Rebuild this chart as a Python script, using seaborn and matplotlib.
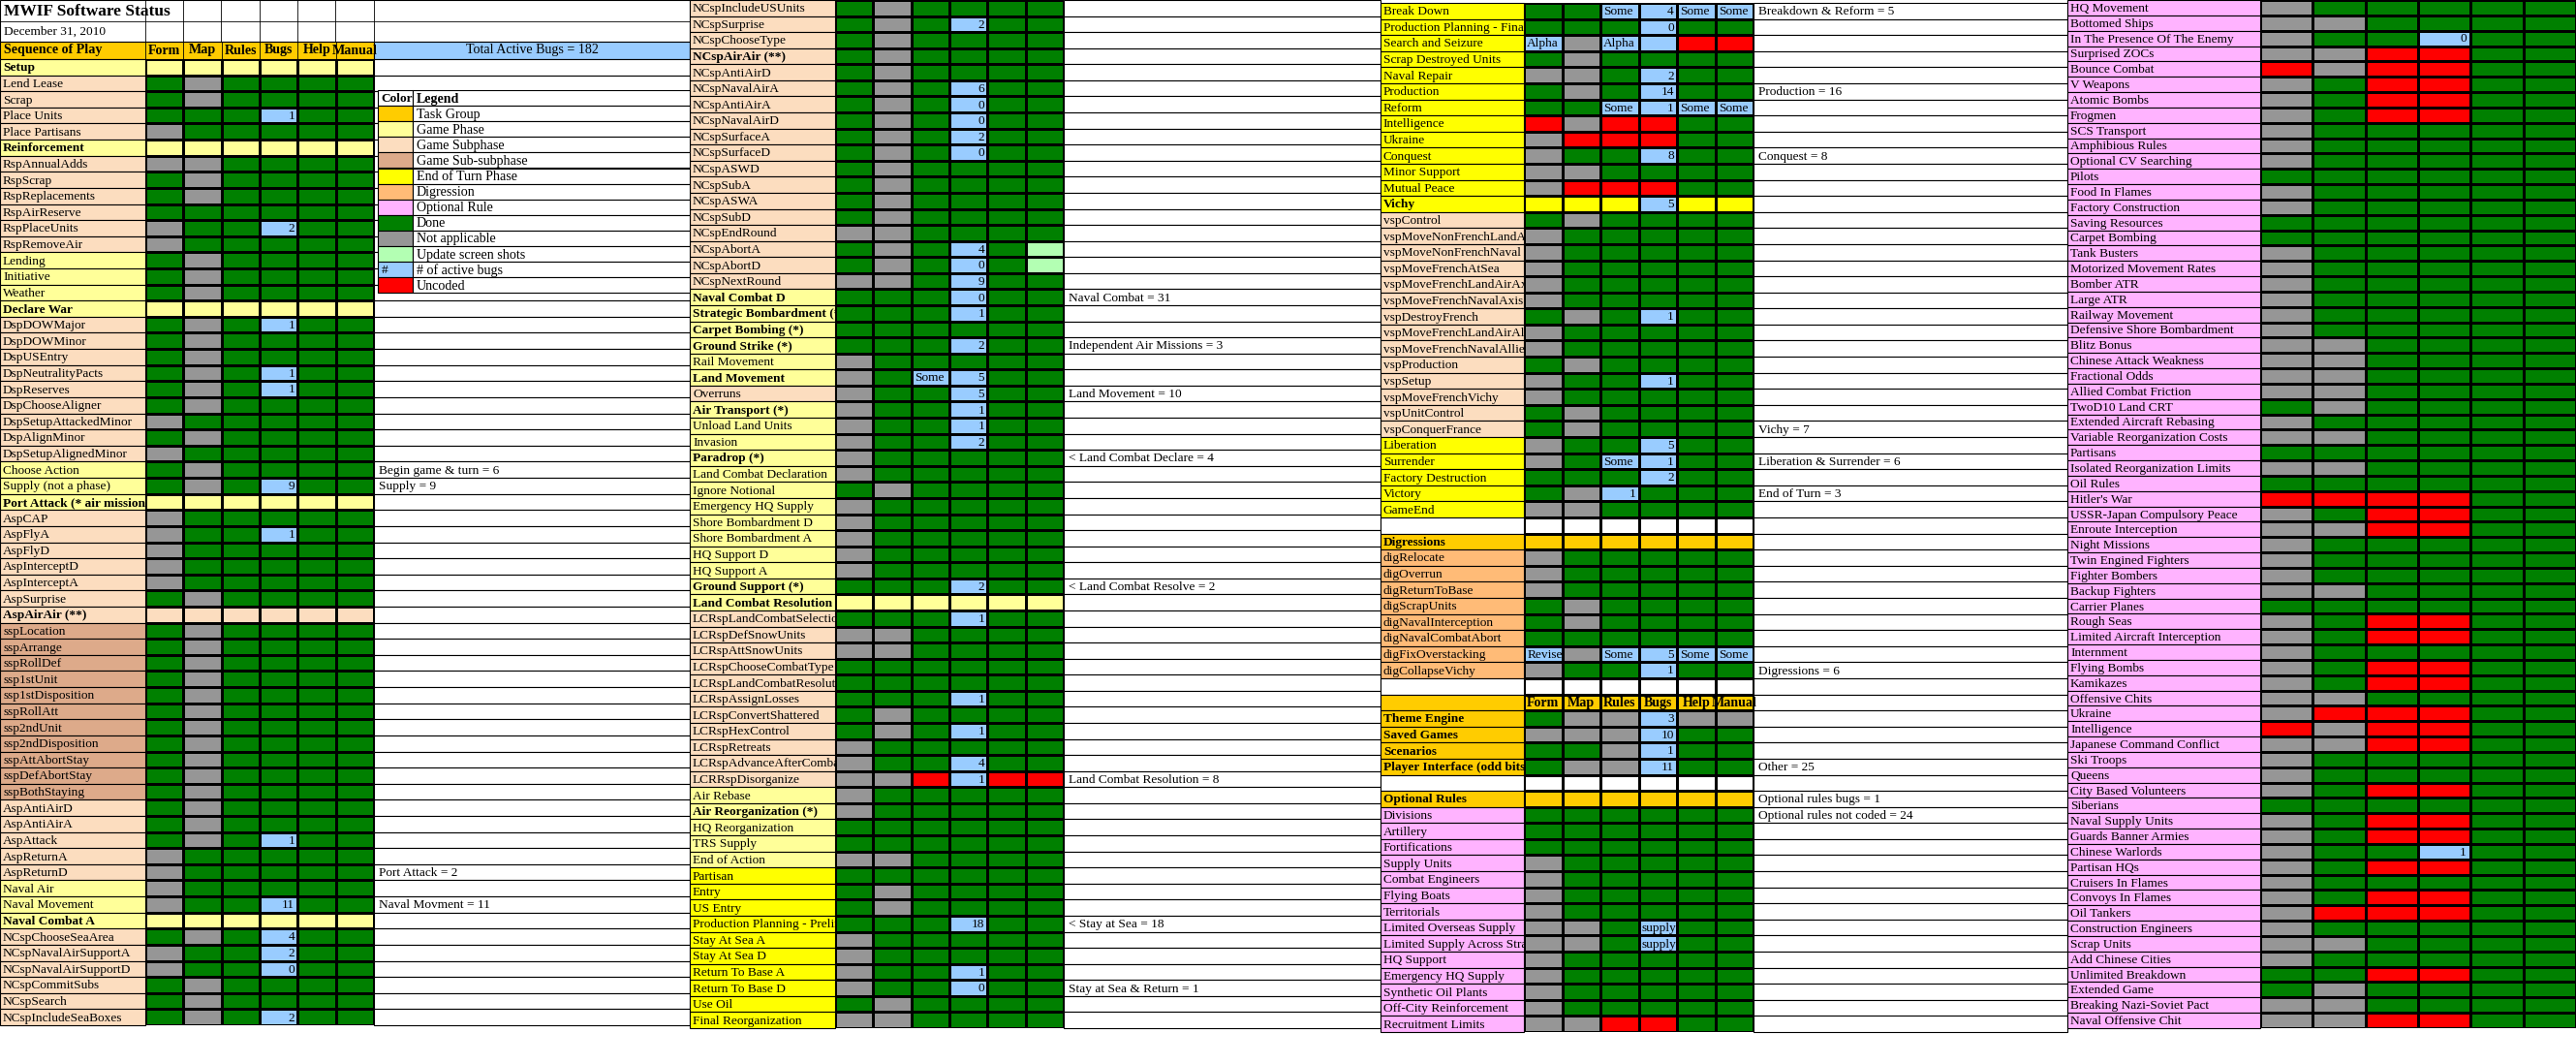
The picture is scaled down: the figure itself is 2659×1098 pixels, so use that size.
import matplotlib
matplotlib.use("Agg")
import matplotlib.pyplot as plt
import seaborn as sns
import numpy as np
from matplotlib.colors import ListedColormap
from matplotlib.patches import Rectangle

W, H = 2659, 1098
FONT = "Liberation Serif"
FS = 9.6

# ---------------- data ----------------
col_headers = ["Form", "Map", "Rules", "Bugs", "Help", "Manual"]
title = "MWIF Software Status"
date_text = "December 31, 2010"
seq_header = "Sequence of Play"
total_bugs_text = "Total Active Bugs = 182"

legend_labels = ["Task Group", "Game Phase", "Game Subphase", "Game Sub-subphase",
                 "End of Turn Phase", "Digression", "Optional Rule", "Done",
                 "Not applicable", "Update screen shots", "# of active bugs", "Uncoded"]
legend_codes = ["t", "g", "s", "u", "e", "d", "o", "G", "X", "L", "B", "R"]

p1_names = ["Setup", "Lend Lease", "Scrap", "Place Units", "Place Partisans", "Reinforcement",
            "RspAnnualAdds", "RspScrap", "RspReplacements", "RspAirReserve", "RspPlaceUnits",
            "RspRemoveAir", "Lending", "Initiative", "Weather", "Declare War", "DspDOWMajor",
            "DspDOWMinor", "DspUSEntry", "DspNeutralityPacts", "DspReserves", "DspChooseAligner",
            "DspSetupAttackedMinor", "DspAlignMinor", "DspSetupAlignedMinor", "Choose Action",
            "Supply (not a phase)", "Port Attack (* air mission)", "AspCAP", "AspFlyA", "AspFlyD",
            "AspInterceptD", "AspInterceptA", "AspSurprise", "AspAirAir (**)", "sspLocation",
            "sspArrange", "sspRollDef", "ssp1stUnit", "ssp1stDisposition", "sspRollAtt",
            "ssp2ndUnit", "ssp2ndDisposition", "sspAttAbortStay", "sspDefAbortStay",
            "sspBothStaying", "AspAntiAirD", "AspAntiAirA", "AspAttack", "AspReturnA",
            "AspReturnD", "Naval Air", "Naval Movement", "Naval Combat A", "NCspChooseSeaArea",
            "NCspNavalAirSupportA", "NCspNavalAirSupportD", "NCspCommitSubs", "NCspSearch",
            "NCspIncludeSeaBoxes"]
p1_kinds = ["G", "s", "s", "s", "s", "G", "s", "s", "s", "s", "s", "s", "g", "g", "g", "G",
            "s", "s", "s", "s", "s", "s", "s", "s", "s", "g", "g", "G", "s", "s", "s", "s", "s",
            "s", "S", "u", "u", "u", "u", "u", "u", "u", "u", "u", "u", "u", "s", "s", "s", "s",
            "s", "g", "g", "G", "s", "s", "s", "s", "s", "s"]
p1_status = ["YYYYYY", "GXGGGG", "GXGGGG", "GGGBGG", "XGGGGG", "YYYYYY", "XXGGGG", "GXGGGG",
             "GXGGGG", "GGGGGG", "XGGBGG", "XGGGGG", "GXGGGG", "GXGGGG", "GXGGGG", "YYYYYY",
             "GXGBGG", "GXGGGG", "GXGGGG", "GXGBGG", "GXGBGG", "GXGGGG", "XGGGGG", "GXGGGG",
             "XGGGGG", "GXGGGG", "GXGBGG", "YYYYYY", "XGGGGG", "XGGBGG", "XGGGGG", "XGGGGG",
             "XGGGGG", "GXGGGG", "SSSSSS", "GXGGGG", "GXGGGG", "GXGGGG", "GXGGGG", "GXGGGG",
             "GXGGGG", "GXGGGG", "GXGGGG", "GXGGGG", "GXGGGG", "GXGGGG", "GXGGGG", "GXGGGG",
             "GXGBGG", "XGGGGG", "XGGGGG", "XGGGGG", "XGGBGG", "YYYYYY", "GXGBGG", "XGGBGG",
             "XGGBGG", "GXGGGG", "GXGGGG", "GXGBGG"]
p1_bugs = {3: "|||1||", 10: "|||2||", 16: "|||1||", 19: "|||1||", 20: "|||1||", 26: "|||9||",
           29: "|||1||", 48: "|||1||", 52: "|||11||", 54: "|||4||", 55: "|||2||", 56: "|||0||",
           59: "|||2||"}
p1_notes = {25: "Begin game & turn = 6", 26: "Supply = 9", 50: "Port Attack = 2",
            52: "Naval Movment = 11"}

p2_names = ["NCspIncludeUSUnits", "NCspSurprise", "NCspChooseType", "NCspAirAir (**)",
            "NCspAntiAirD", "NCspNavalAirA", "NCspAntiAirA", "NCspNavalAirD", "NCspSurfaceA",
            "NCspSurfaceD", "NCspASWD", "NCspSubA", "NCspASWA", "NCspSubD", "NCspEndRound",
            "NCspAbortA", "NCspAbortD", "NCspNextRound", "Naval Combat D",
            "Strategic Bombardment (*)", "Carpet Bombing (*)", "Ground Strike (*)",
            "Rail Movement", "Land Movement", "Overruns", "Air Transport (*)",
            "Unload Land Units", "Invasion", "Paradrop (*)", "Land Combat Declaration",
            "Ignore Notional", "Emergency HQ Supply", "Shore Bombardment D",
            "Shore Bombardment A", "HQ Support D", "HQ Support A", "Ground Support (*)",
            "Land Combat Resolution", "LCRspLandCombatSelection", "LCRspDefSnowUnits",
            "LCRspAttSnowUnits", "LCRspChooseCombatType", "LCRspLandCombatResolution",
            "LCRspAssignLosses", "LCRspConvertShattered", "LCRspHexControl", "LCRspRetreats",
            "LCRspAdvanceAfterCombat", "LCRRspDisorganize", "Air Rebase",
            "Air Reorganization (*)", "HQ Reorganization", "TRS Supply", "End of Action",
            "Partisan", "Entry", "US Entry", "Production Planning - Prelim", "Stay At Sea A",
            "Stay At Sea D", "Return To Base A", "Return To Base D", "Use Oil",
            "Final Reorganization"]
p2_kinds = ["s", "s", "s", "S", "s", "s", "s", "s", "s", "s", "s", "s", "s", "s", "s", "s",
            "s", "s", "G", "G", "G", "G", "g", "G", "s", "G", "g", "g", "G", "g", "g", "g",
            "g", "g", "g", "g", "G", "G", "s", "s", "s", "s", "s", "s", "s", "s", "s", "s",
            "s", "g", "G", "g", "g", "g", "e", "e", "e", "e", "e", "e", "e", "e", "e", "e"]
p2_status = ["GXGGGG", "GXGBGG", "GXGGGG", "GXGGGG", "GXGGGG", "GXGBGG", "GXGBGG", "GXGBGG",
             "GXGBGG", "GXGBGG", "GXGGGG", "GXGGGG", "GXGGGG", "GXGGGG", "XXGGGG", "GXGBGL",
             "GXGBGL", "XXGBGG", "GGGBGG", "GGGBGG", "GGGGGG", "GGGBGG", "XGGGGG", "XGBBGG",
             "XGGBGG", "XGGBGG", "XGGBGG", "XGGBGG", "XGGGGG", "XGGGGG", "GXGGGG", "XGGGGG",
             "XGGGGG", "XGGGGG", "XGGGGG", "XGGGGG", "GGGBGG", "YYYYYY", "GGGBGG", "XXGGGG",
             "XXGGGG", "GGGGGG", "GGGGGG", "GGGBGG", "GXGGGG", "GXGBGG", "XGGGGG", "XGGBGG",
             "XXRBRR", "XGGGGG", "XGGGGG", "GGGGGG", "GGGGGG", "XXGGGG", "GGGGGG", "GXGGGG",
             "GXGGGG", "GGGBGG", "XGGGGG", "XGGGGG", "XGGBGG", "XGGBGG", "GXGGGG", "XXGGGG"]
p2_bugs = {1: "|||2||", 5: "|||6||", 6: "|||0||", 7: "|||0||", 8: "|||2||", 9: "|||0||",
           15: "|||4||", 16: "|||0||", 17: "|||9||", 18: "|||0||", 19: "|||1||", 21: "|||2||",
           23: "||Some|5||", 24: "|||5||", 25: "|||1||", 26: "|||1||", 27: "|||2||",
           36: "|||2||", 38: "|||1||", 43: "|||1||", 45: "|||1||", 47: "|||4||", 48: "|||1||",
           57: "|||18||", 60: "|||1||", 61: "|||0||"}
p2_notes = {18: "Naval Combat = 31", 21: "Independent Air Missions = 3", 24: "Land Movement = 10",
            28: "< Land Combat Declare = 4", 36: "< Land Combat Resolve = 2",
            48: "Land Combat Resolution = 8", 57: "< Stay at Sea = 18",
            61: "Stay at Sea & Return = 1"}

p3_names = ["Break Down", "Production Planning - Final", "Search and Seizure",
            "Scrap Destroyed Units", "Naval Repair", "Production", "Reform", "Intelligence",
            "Ukraine", "Conquest", "Minor Support", "Mutual Peace", "Vichy", "vspControl",
            "vspMoveNonFrenchLandAir", "vspMoveNonFrenchNaval", "vspMoveFrenchAtSea",
            "vspMoveFrenchLandAirAxis", "vspMoveFrenchNavalAxis", "vspDestroyFrench",
            "vspMoveFrenchLandAirAllied", "vspMoveFrenchNavalAllied", "vspProduction",
            "vspSetup", "vspMoveFrenchVichy", "vspUnitControl", "vspConquerFrance",
            "Liberation", "Surrender", "Factory Destruction", "Victory", "GameEnd", "",
            "Digressions", "digRelocate", "digOverrun", "digReturnToBase", "digScrapUnits",
            "digNavalInterception", "digNavalCombatAbort", "digFixOverstacking",
            "digCollapseVichy", "", "", "Theme Engine", "Saved Games", "Scenarios",
            "Player Interface (odd bits)", "", "Optional Rules", "Divisions", "Artillery",
            "Fortifications", "Supply Units", "Combat Engineers", "Flying Boats",
            "Territorials", "Limited Overseas Supply", "Limited Supply Across Straits",
            "HQ Support", "Emergency HQ Supply", "Synthetic Oil Plants",
            "Off-City Reinforcement", "Recruitment Limits"]
p3_kinds = ["e"] * 12 + ["E"] + ["s"] * 14 + ["e"] * 5 + ["w", "T"] + ["d"] * 8 + \
           ["w", "T", "T", "T", "T", "T", "w", "T"] + ["o"] * 15
p3_status = ["GGBBBB", "GGGBGG", "BXBBRR", "GXGGGG", "XXGBGG", "GXGBGG", "GGBBBB", "RXRRGG",
             "XRRRGG", "XGGBGG", "XXGGGG", "XRRRGG", "EEEBEE", "GXGGGG", "XGGGGG", "XGGGGG",
             "XGGGGG", "XGGGGG", "XGGGGG", "GXGBGG", "XGGGGG", "XGGGGG", "GXGGGG", "XGGBGG",
             "XGGGGG", "GXGGGG", "GXGGGG", "XGGBGG", "XGBBGG", "GGGBGG", "GXBGGG", "XXGGGG",
             "WWWWWW", "TTTTTT", "XGGGGG", "XGGGGG", "XGGGGG", "GXGGGG", "GXGGGG", "GGGGGG",
             "BXBBBB", "XGGBGG", "WWWWWW", "TTTTTT", "GXXBXX", "XXXBGG", "GGXBGG", "GXXBGG",
             "WWWWWW", "TTTTTT", "GGGGGG", "GGGGGG", "GGGGGG", "XGGGGG", "XGGGGG", "XGGGGG",
             "XGGGGG", "XXGBGG", "XXGBGG", "XGGGGG", "XGGGGG", "XGGGGG", "XGGGGG", "XXRRGG"]
p3_bugs = {0: "||Some|4|Some|Some", 1: "|||0||", 2: "Alpha||Alpha|||", 4: "|||2||",
           5: "|||14||", 6: "||Some|1|Some|Some", 9: "|||8||", 12: "|||5||", 19: "|||1||",
           23: "|||1||", 27: "|||5||", 28: "||Some|1||", 29: "|||2||", 30: "||1|||",
           40: "Revise||Some|5|Some|Some", 41: "|||1||", 43: "HEADER", 44: "|||3||",
           45: "|||10||", 46: "|||1||", 47: "|||11||", 57: "|||supply||", 58: "|||supply||"}
p3_notes = {0: "Breakdown & Reform = 5", 5: "Production = 16", 9: "Conquest = 8",
            26: "Vichy = 7", 28: "Liberation & Surrender = 6", 30: "End of Turn = 3",
            41: "Digressions = 6", 47: "Other = 25", 49: "Optional rules bugs = 1",
            50: "Optional rules not coded = 24"}

p4_names = ["HQ Movement", "Bottomed Ships", "In The Presence Of The Enemy", "Surprised ZOCs",
            "Bounce Combat", "V Weapons", "Atomic Bombs", "Frogmen", "SCS Transport",
            "Amphibious Rules", "Optional CV Searching", "Pilots", "Food In Flames",
            "Factory Construction", "Saving Resources", "Carpet Bombing", "Tank Busters",
            "Motorized Movement Rates", "Bomber ATR", "Large ATR", "Railway Movement",
            "Defensive Shore Bombardment", "Blitz Bonus", "Chinese Attack Weakness",
            "Fractional Odds", "Allied Combat Friction", "TwoD10 Land CRT",
            "Extended Aircraft Rebasing", "Variable Reorganization Costs", "Partisans",
            "Isolated Reorganization Limits", "Oil Rules", "Hitler's War",
            "USSR-Japan Compulsory Peace", "Enroute Interception", "Night Missions",
            "Twin Engined Fighters", "Fighter Bombers", "Backup Fighters", "Carrier Planes",
            "Rough Seas", "Limited Aircraft Interception", "Internment", "Flying Bombs",
            "Kamikazes", "Offensive Chits", "Ukraine", "Intelligence",
            "Japanese Command Conflict", "Ski Troops", "Queens", "City Based Volunteers",
            "Siberians", "Naval Supply Units", "Guards Banner Armies", "Chinese Warlords",
            "Partisan HQs", "Cruisers In Flames", "Convoys In Flames", "Oil Tankers",
            "Construction Engineers", "Scrap Units", "Add Chinese Cities",
            "Unlimited Breakdown", "Extended Game", "Breaking Nazi-Soviet Pact",
            "Naval Offensive Chit"]
p4_kinds = ["o"] * len(p4_names)
p4_status = ["XGGGGG", "XXGGGG", "XGGBGG", "XXRRGG", "RXRRGG", "XGRRGG", "XGRRGG", "XGRRGG",
             "XGGGGG", "XGGGGG", "XGGGGG", "GGGGGG", "XGGGGG", "XGGGGG", "GGGGGG", "GGGGGG",
             "XGGGGG", "XGGGGG", "XGGGGG", "XGGGGG", "XGGGGG", "XGGGGG", "XXGGGG", "XXGGGG",
             "XXGGGG", "XXGGGG", "GXGGGG", "XGGGGG", "XXGGGG", "GGGGGG", "XXGGGG", "GGGGGG",
             "RRRRGG", "XGRRGG", "XXRRGG", "XGGGGG", "XGGGGG", "XGGGGG", "XXGGGG", "GGGGGG",
             "XGRRGG", "XGRRGG", "XGGGGG", "XGRRGG", "XGRRGG", "XXGGGG", "XRRRGG", "RXRRGG",
             "XXRRGG", "XGGGGG", "XGGGGG", "XGRRGG", "GGGGGG", "XGRRGG", "XGRRGG", "XGGBGG",
             "XGRRGG", "XGGGGG", "XGRRGG", "XRRRGG", "XGGGGG", "XXGGGG", "XGGGGG", "GGRRGG",
             "GXGGGG", "XXGGGG", "XXRRGG"]
p4_bugs = {2: "|||0||", 55: "|||1||"}
p4_notes = {}

# ---------------- styling ----------------
cell_codes = "GXRBLYESTW"
cell_colors = ["#008000", "#969696", "#FF0000", "#99CCFF", "#B3FFB3", "#FFFF99", "#FFFF00",
               "#FCDDBF", "#FFCC00", "#FFFFFF"]
name_colors = {"g": "#FFFF99", "s": "#FCDDBF", "u": "#DDAA8A", "e": "#FFFF00", "d": "#FFBB77",
               "o": "#FFB3FF", "t": "#FFCC00", "w": "#FFFFFF"}
cmap = ListedColormap(cell_colors)

fig = plt.figure(figsize=(W / 100, H / 100), dpi=100)
ax0 = fig.add_axes([0, 0, 1, 1])
ax0.set_xlim(0, W)
ax0.set_ylim(H, 0)
ax0.axis("off")


def name_color(k):
    return name_colors.get(k.lower(), "#FFFFFF")


def panel(xn, xg0, xg1, xe, y0, y1, names, kinds, status, bugs, notes):
    n = len(names)
    h = (y1 - y0) / n
    for i, (nm, k) in enumerate(zip(names, kinds)):
        yt = y0 + i * h
        ax0.add_patch(Rectangle((xn, yt), xg0 - xn, h, facecolor=name_color(k),
                                edgecolor="black", lw=0.8))
        ax0.add_patch(Rectangle((xg1, yt), xe - xg1, h, facecolor="white",
                                edgecolor="black", lw=0.8))
        ax0.text(xn + 3, yt + h / 2 + 1, nm, fontsize=FS, family=FONT, va="center",
                 ha="left", fontweight="bold" if k.isupper() else "normal")
        if i in notes:
            ax0.text(xg1 + 5, yt + h / 2 + 1, notes[i], fontsize=FS, family=FONT,
                     va="center", ha="left")
    mat = np.array([[cell_codes.index(c) for c in row] for row in status])
    ax = fig.add_axes([xg0 / W, 1 - y1 / H, (xg1 - xg0) / W, (y1 - y0) / H])
    sns.heatmap(mat, ax=ax, cmap=cmap, vmin=-0.5, vmax=len(cell_codes) - 0.5, cbar=False,
                linewidths=0.8, linecolor="black", xticklabels=False, yticklabels=False)
    for i, lab in bugs.items():
        if lab == "HEADER":
            for j, c in enumerate(col_headers):
                ax.text(j + 0.5, i + 0.55, c, fontsize=FS + 0.5, family=FONT, ha="center",
                        va="center", fontweight="bold")
            continue
        for j, t in enumerate(lab.split("|")):
            if not t:
                continue
            if t.isdigit():
                ax.text(j + 0.92, i + 0.55, t, fontsize=FS, family=FONT, ha="right", va="center")
            else:
                ax.text(j + 0.08, i + 0.55, t, fontsize=FS, family=FONT, ha="left", va="center")
    return ax


# panel 1 header rows
ax0.add_patch(Rectangle((0, 0), 712, 43, facecolor="white", edgecolor="black", lw=0.8))
ax0.plot([0, 712], [22, 22], color="black", lw=0.6)
for xv in [150, 189, 228, 268, 307, 346, 386]:
    ax0.plot([xv, xv], [0, 43], color="black", lw=0.6)
ax0.text(4, 12, title, fontsize=12.5, family=FONT, fontweight="bold", va="center")
ax0.text(4, 33, date_text, fontsize=FS, family=FONT, va="center")
ax0.add_patch(Rectangle((0, 43), 386, 18, facecolor="#FFCC00", edgecolor="black", lw=0.8))
ax0.text(4, 52, seq_header, fontsize=FS + 0.5, family=FONT, fontweight="bold", va="center")
xs = np.linspace(150, 386, 7)
for j, c in enumerate(col_headers):
    ax0.text((xs[j] + xs[j + 1]) / 2, 52, c, fontsize=FS + 0.5, family=FONT,
             fontweight="bold", ha="center", va="center")
    ax0.plot([xs[j], xs[j]], [43, 61], color="black", lw=0.6)
ax0.add_patch(Rectangle((386, 43), 326, 18, facecolor="#99CCFF", edgecolor="black", lw=0.8))
ax0.text(549, 52, total_bugs_text, fontsize=FS + 0.5, family=FONT, ha="center", va="center")

panel(0, 150, 386, 712, 61, 1058, p1_names, p1_kinds, p1_status, p1_bugs, p1_notes)
panel(712, 862, 1098, 1425, 0, 1061, p2_names, p2_kinds, p2_status, p2_bugs, p2_notes)
panel(1425, 1573, 1810, 2134, 3, 1065, p3_names, p3_kinds, p3_status, p3_bugs, p3_notes)
panel(2134, 2333, 2659, 2659, 0, 1061, p4_names, p4_kinds, p4_status, p4_bugs, p4_notes)

# legend (drawn on top in its own overlay axes)
axl = fig.add_axes([0, 0, 1, 1])
axl.set_xlim(0, W)
axl.set_ylim(H, 0)
axl.axis("off")
ly0, lh = 93, 16.1
axl.add_patch(Rectangle((390, ly0), 322, lh * 13 + 1, facecolor="white", edgecolor="none"))
axl.add_patch(Rectangle((390, ly0), 36, lh, facecolor="white", edgecolor="black", lw=0.8))
axl.add_patch(Rectangle((426, ly0), 286, lh, facecolor="white", edgecolor="black", lw=0.8))
axl.text(393, ly0 + lh / 2 + 1, "Color", fontsize=FS, family=FONT, fontweight="bold", va="center")
axl.text(430, ly0 + lh / 2 + 1, "Legend", fontsize=FS + 0.5, family=FONT, fontweight="bold", va="center")
for i, (lab, code) in enumerate(zip(legend_labels, legend_codes)):
    yt = ly0 + (i + 1) * lh
    fc = name_colors[code] if code.islower() else cell_colors[cell_codes.index(code)]
    axl.add_patch(Rectangle((390, yt), 36, lh, facecolor=fc, edgecolor="black", lw=0.8))
    axl.add_patch(Rectangle((426, yt), 286, lh, facecolor="white", edgecolor="black", lw=0.8))
    axl.text(430, yt + lh / 2 + 1, lab, fontsize=FS + 0.5, family=FONT, va="center")
    if code == "B":
        axl.text(394, yt + lh / 2 + 1, "#", fontsize=FS, family=FONT, va="center")

fig.savefig("out.png", dpi=100)
